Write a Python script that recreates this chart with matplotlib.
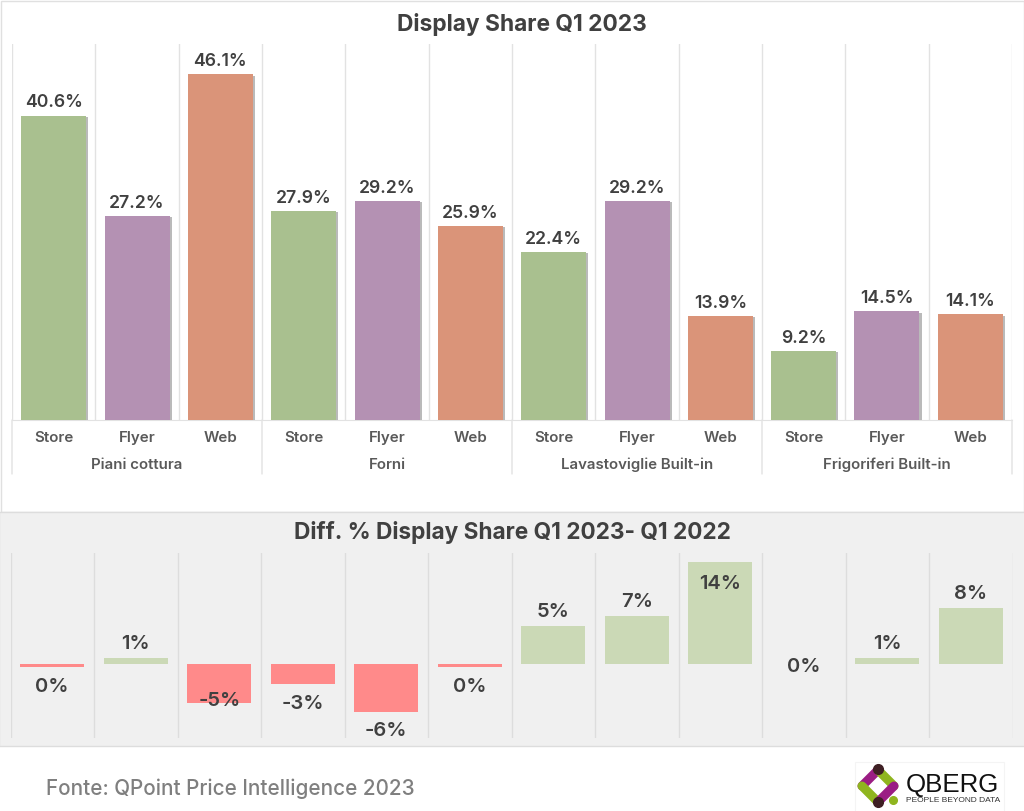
import matplotlib
matplotlib.use('Agg')
import matplotlib.pyplot as plt
import matplotlib.patheffects as pe
from matplotlib.patches import Rectangle
import numpy as np

W, H = 1024, 811
plt.rcParams['font.family'] = ['Inter', 'DejaVu Sans']

groups = ['Piani cottura', 'Forni', 'Lavastoviglie Built-in', 'Frigoriferi Built-in']
channels = ['Store', 'Flyer', 'Web']
share = [40.6, 27.2, 46.1, 27.9, 29.2, 25.9, 22.4, 29.2, 13.9, 9.2, 14.5, 14.1]
diff = [-0.4, 0.8, -5.3, -2.7, -6.6, -0.4, 5.2, 6.6, 14.0, 0.0, 0.8, 7.7]
diff_labels = ['0%', '1%', '-5%', '-3%', '-6%', '0%', '5%', '7%', '14%', '0%', '1%', '8%']

channel_colors = ['#A9C08F', '#B491B3', '#DA9479']
up_color = '#CBD9B6'
down_color = '#FF8A8A'
text_color = '#404040'
grid_color = '#E2E2E2'


def px_axes(fig, left, top, right, bottom):
    # axes placed with reference pixel coordinates
    ax = fig.add_axes([left / W, 1 - bottom / H, (right - left) / W, (bottom - top) / H])
    ax.patch.set_alpha(0)
    for s in ax.spines.values():
        s.set_visible(False)
    return ax


fig = plt.figure(figsize=(W / 100, H / 100), dpi=100, facecolor='white')

# background panels, title bands and logo live on a pixel overlay
bg = px_axes(fig, 0, 0, W, H)
bg.set_xlim(0, W)
bg.set_ylim(H, 0)
bg.axis('off')
bg.add_patch(Rectangle((0.5, 0.5), W - 1, 511, fc='white', ec='#E0E0E0', lw=1))
bg.add_patch(Rectangle((-1, 512), W + 2, 234, fc='#F0F0F0', ec='#DDDDDD', lw=1))
bg.text(521.5, 24.5, 'Display Share Q1 2023', ha='center', va='center',
        fontsize=16.4, fontweight='bold', color=text_color)
bg.text(512.5, 532.5, 'Diff. % Display Share Q1 2023- Q1 2022', ha='center', va='center',
        fontsize=16.3, fontweight='bold', color=text_color)
bg.text(46, 789, 'Fonte: QPoint Price Intelligence 2023', ha='left', va='center',
        fontsize=14.9, fontweight='medium', color='#7F7F7F')

# logo
bg.add_patch(Rectangle((855, 762), 149, 50, fc='white', ec='#F4F4F4', lw=0.8))
for (x0, y0, x1, y1), c in [((878, 770, 862, 786), '#9B1D84'),
                            ((862, 786, 878, 802), '#8FB51F'),
                            ((878, 770, 894, 786), '#8FB51F'),
                            ((894, 786, 878, 802), '#9B1D84')]:
    bg.plot([x0, x1], [y0, y1], color=c, lw=6.5, solid_capstyle='round')
bg.plot([878, 878], [769, 802], ls='none', marker='o', ms=7, color='#3E1F24')
bg.plot([893], [800], ls='none', marker='o', ms=5.5, color='#8FB51F')
bg.text(906, 785, 'QBERG', ha='left', va='center', fontsize=18.6,
        color='#111111', fontfamily='Liberation Sans')
bg.text(906, 801, 'PEOPLE BEYOND DATA', ha='left', va='center', fontsize=6.0,
        color='#333333', fontfamily='Liberation Sans')

n = len(share)
x = np.arange(n)

# top chart
ax = px_axes(fig, 12, 44, 1012, 420)
ax.set_xlim(-0.5, n - 0.5)
ax.set_ylim(0, 376 / 7.5)
bar_colors = [channel_colors[i % 3] for i in range(n)]
bars = ax.bar(x, share, width=0.78, color=bar_colors, zorder=3)
for b in bars:
    b.set_path_effects([pe.withSimplePatchShadow(offset=(1.5, -1), shadow_rgbFace='#8C8C8C', alpha=0.6)])
ax.bar_label(bars, labels=[f'{v:.1f}%' for v in share], padding=3,
             fontsize=12.7, fontweight='semibold', color=text_color)
ax.set_yticks([])
ax.set_xticks(x)
ax.set_xticklabels([channels[i % 3] for i in range(n)], fontsize=10.9,
                   fontweight='semibold', color='#595959')
ax.tick_params(axis='x', length=0, pad=8)
ax.set_xticks(np.arange(-0.5, n), minor=True)
ax.tick_params(axis='x', which='minor', length=0)
ax.grid(True, axis='x', which='minor', color=grid_color, lw=1, zorder=0)
ax.spines['bottom'].set_visible(True)
ax.spines['bottom'].set_color(grid_color)

# group labels and separators below the axis
for i, g in enumerate(groups):
    ax.annotate(g, xy=(3 * i + 1, 0), xytext=(0, -45 * 0.72), textcoords='offset points',
                ha='center', va='center', fontsize=10.8, fontweight='semibold',
                color='#595959', annotation_clip=False)
for k in range(len(groups) + 1):
    ax.annotate('', xy=(3 * k - 0.5, 0), xytext=(0, -54 * 0.72), textcoords='offset points',
                arrowprops=dict(arrowstyle='-', color=grid_color, lw=1, shrinkA=0, shrinkB=0),
                annotation_clip=False)

# bottom chart
ax2 = px_axes(fig, 10.5, 553, 1012.5, 738)
ax2.set_xlim(-0.5, n - 0.5)
ax2.set_ylim(-74 / 7.3, 111 / 7.3)
diff_colors = [up_color if v > 0 else down_color for v in diff]
ax2.bar(x, diff, width=0.77, color=diff_colors, zorder=3)
ax2.set_yticks([])
ax2.set_xticks(np.arange(-0.5, n), minor=True)
ax2.set_xticks([])
ax2.tick_params(axis='x', which='minor', length=0)
ax2.grid(True, axis='x', which='minor', color='#DDDDDD', lw=1, zorder=0)

# pixel offset of each label from the bar end
label_offsets = [-20, 14, 2, -20, -19, -20, 14, 14, -22, -3, 14, 14]
for xi, v, lab, off in zip(x, diff, diff_labels, label_offsets):
    ax2.annotate(lab, xy=(xi, v), xytext=(0, off * 0.72), textcoords='offset points',
                 ha='center', va='center', fontsize=14.5, fontweight='semibold',
                 color=text_color, zorder=5)

fig.savefig('out.png', dpi=100, facecolor='white')
